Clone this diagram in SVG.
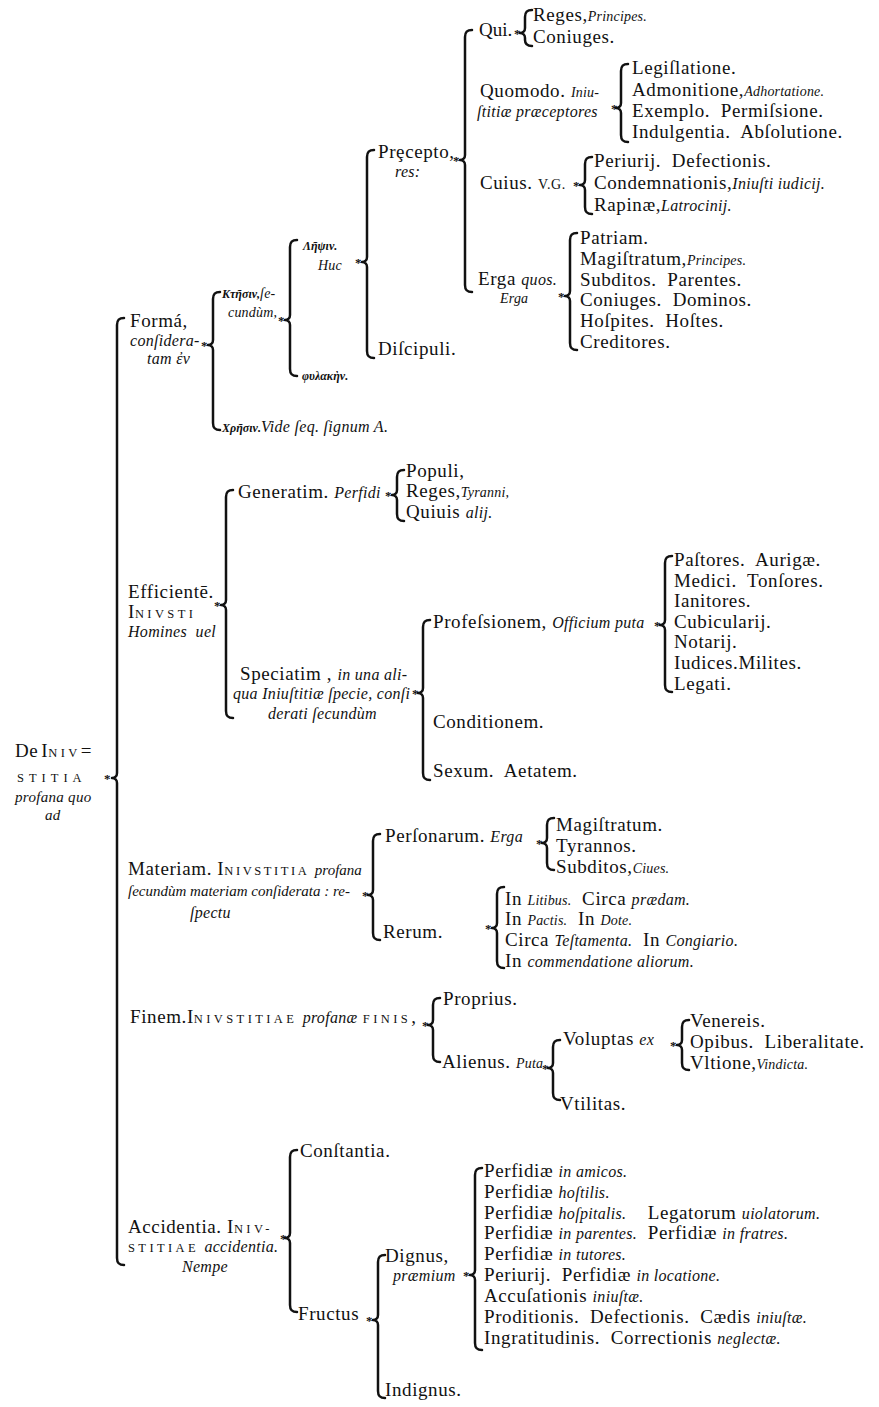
<svg xmlns="http://www.w3.org/2000/svg" width="879" height="1407" viewBox="0 0 879 1407" xml:space="preserve">
<style>
text{font-family:"Liberation Serif","DejaVu Serif",serif;font-size:19px;fill:#111;white-space:pre;letter-spacing:0.6px}
.i{font-style:italic;font-size:16px;letter-spacing:0.3px}
.it{font-style:italic;font-size:16px;letter-spacing:0.3px}
.sm{font-style:italic;font-size:14px;letter-spacing:0.2px}
.sc{font-size:12.5px;letter-spacing:3.4px}
.g{font-style:italic;font-size:12px;font-weight:bold;letter-spacing:0}
.ast{font-size:13px;font-weight:bold}
.b{fill:none;stroke:#111;stroke-width:2.5;stroke-linecap:round;stroke-linejoin:round}
</style>
<rect width="879" height="1407" fill="#ffffff"/>
<g id="connectors">
<path class="b" d="M124,318 C119,318 117,320 117,325 L117,773 C117,776 115,778 112,778 C115,778 117,780 117,783 L117,1258 C117,1263 119,1265 124,1265"/>
<path class="b" d="M220,292 C215,292 213,294 213,299 L213,340 C213,343 211,345 208,345 C211,345 213,347 213,350 L213,423 C213,428 215,430 220,430"/>
<path class="b" d="M297,240 C292,240 290,242 290,247 L290,315 C290,318 288,320 285,320 C288,320 290,322 290,325 L290,369 C290,374 292,376 297,376"/>
<path class="b" d="M374,150 C369,150 367,152 367,157 L367,257 C367,260 365,262 362,262 C365,262 367,264 367,267 L367,351 C367,356 369,358 374,358"/>
<path class="b" d="M472,30 C467,30 465,32 465,37 L465,155 C465,158 463,160 460,160 C463,160 465,162 465,165 L465,285 C465,290 467,292 472,292"/>
<path class="b" d="M532,10 C527,10 525,12 525,17 L525,28 C525,31 523,33 520,33 C523,33 525,35 525,38 L525,40 C525,44 527,46 532,46"/>
<path class="b" d="M628,64 C623,64 621,66 621,71 L621,103 C621,106 619,108 616,108 C619,108 621,110 621,113 L621,135 C621,140 623,142 628,142"/>
<path class="b" d="M592,157 C587,157 585,159 585,164 L585,180 C585,183 583,185 580,185 C583,185 585,187 585,190 L585,207 C585,212 587,214 592,214"/>
<path class="b" d="M577,233 C572,233 570,235 570,240 L570,291 C570,294 568,296 565,296 C568,296 570,298 570,301 L570,343 C570,348 572,350 577,350"/>
<path class="b" d="M233,490 C228,490 226,492 226,497 L226,600 C226,603 224,605 221,605 C224,605 226,607 226,610 L226,711 C226,716 228,718 233,718"/>
<path class="b" d="M404,470 C399,470 397,472 397,477 L397,490 C397,493 395,495 392,495 C395,495 397,497 397,500 L397,514 C397,519 399,521 404,521"/>
<path class="b" d="M430,620 C425,620 423,622 423,627 L423,688 C423,691 421,693 418,693 C421,693 423,695 423,698 L423,773 C423,778 425,780 430,780"/>
<path class="b" d="M672,556 C667,556 665,558 665,563 L665,620 C665,623 663,625 660,625 C663,625 665,627 665,630 L665,685 C665,690 667,692 672,692"/>
<path class="b" d="M380,834 C375,834 373,836 373,841 L373,890 C373,893 371,895 368,895 C371,895 373,897 373,900 L373,933 C373,938 375,940 380,940"/>
<path class="b" d="M554,818 C549,818 547,820 547,825 L547,838 C547,841 545,843 542,843 C545,843 547,845 547,848 L547,863 C547,868 549,870 554,870"/>
<path class="b" d="M504,887 C499,887 497,889 497,894 L497,923 C497,926 495,928 492,928 C495,928 497,930 497,933 L497,961 C497,966 499,968 504,968"/>
<path class="b" d="M440,998 C435,998 433,1000 433,1005 L433,1020 C433,1023 431,1025 428,1025 C431,1025 433,1027 433,1030 L433,1055 C433,1060 435,1062 440,1062"/>
<path class="b" d="M560,1040 C555,1040 553,1042 553,1047 L553,1063 C553,1066 551,1068 548,1068 C551,1068 553,1070 553,1073 L553,1093 C553,1098 555,1100 560,1100"/>
<path class="b" d="M689,1020 C684,1020 682,1022 682,1027 L682,1040 C682,1043 680,1045 677,1045 C680,1045 682,1047 682,1050 L682,1063 C682,1068 684,1070 689,1070"/>
<path class="b" d="M297,1150 C292,1150 290,1152 290,1157 L290,1233 C290,1236 288,1238 285,1238 C288,1238 290,1240 290,1243 L290,1305 C290,1310 292,1312 297,1312"/>
<path class="b" d="M385,1255 C380,1255 378,1257 378,1262 L378,1315 C378,1318 376,1320 373,1320 C376,1320 378,1322 378,1325 L378,1391 C378,1396 380,1398 385,1398"/>
<path class="b" d="M482,1168 C477,1168 475,1170 475,1175 L475,1270 C475,1273 473,1275 470,1275 C473,1275 475,1277 475,1280 L475,1343 C475,1348 477,1350 482,1350"/>
<text class="ast" x="104" y="783">*</text>
<text class="ast" x="201" y="350">*</text>
<text class="ast" x="278" y="325">*</text>
<text class="ast" x="355" y="267">*</text>
<text class="ast" x="453" y="165">*</text>
<text class="ast" x="514" y="38">*</text>
<text class="ast" x="611" y="113">*</text>
<text class="ast" x="573" y="190">*</text>
<text class="ast" x="558" y="301">*</text>
<text class="ast" x="214" y="610">*</text>
<text class="ast" x="385" y="500">*</text>
<text class="ast" x="412" y="698">*</text>
<text class="ast" x="654" y="630">*</text>
<text class="ast" x="362" y="900">*</text>
<text class="ast" x="536" y="848">*</text>
<text class="ast" x="485" y="933">*</text>
<text class="ast" x="422" y="1030">*</text>
<text class="ast" x="542" y="1073">*</text>
<text class="ast" x="670" y="1050">*</text>
<text class="ast" x="280" y="1243">*</text>
<text class="ast" x="366" y="1325">*</text>
<text class="ast" x="463" y="1280">*</text>
</g>
<g id="n-root">
<text x="15" y="757">De<tspan dx="3">I</tspan><tspan class="sc">NIV</tspan>=</text>
<text x="17" y="782"><tspan class="sc" style="letter-spacing:5px">STITIA</tspan></text>
<text x="15" y="802"><tspan class="i" style="font-size:15px">profana quo</tspan></text>
<text x="45" y="820"><tspan class="i" style="font-size:15px">ad</tspan></text>
</g>
<g id="n-forma">
<text x="130" y="327">Formá,</text>
<text x="130" y="346" class="it">conſidera-</text>
<text x="147" y="364" class="it">tam ἐν</text>
</g>
<g id="n-ktesin">
<text x="222" y="298"><tspan class="g">Κτῆσιν,</tspan><tspan class="sm">ſe-</tspan></text>
<text x="228" y="317" class="sm">cundùm,</text>
</g>
<g id="n-lepsin">
<text x="303" y="250" class="g">Λῆψιν.</text>
<text x="318" y="270" class="sm">Huc</text>
</g>
<g id="n-precepto">
<text x="378" y="158">Prȩcepto,</text>
<text x="395" y="177" class="it">res:</text>
</g>
<g id="n-qui"><text x="479" y="36" style="letter-spacing:0">Qui.</text></g>
<g id="n-qui-items">
<text x="533" y="21">Reges,<tspan class="sm">Principes.</tspan></text>
<text x="533" y="43">Coniuges.</text>
</g>
<g id="n-quomodo">
<text x="480" y="97">Quomodo. <tspan class="sm">Iniu-</tspan></text>
<text x="477" y="117" class="it">ſtitiæ præceptores</text>
</g>
<g id="n-quomodo-items">
<text x="632" y="74">Legiſlatione.</text>
<text x="632" y="96">Admonitione,<tspan class="sm">Adhortatione.</tspan></text>
<text x="632" y="117">Exemplo.  Permiſsione.</text>
<text x="632" y="138">Indulgentia.  Abſolutione.</text>
</g>
<g id="n-cuius"><text x="480" y="189">Cuius. <tspan style="font-size:14px">V.G.</tspan></text></g>
<g id="n-cuius-items">
<text x="594" y="167">Periurij.  Defectionis.</text>
<text x="594" y="189">Condemnationis,<tspan class="i">Iniuſti iudicij.</tspan></text>
<text x="594" y="211">Rapinæ,<tspan class="i">Latrocinij.</tspan></text>
</g>
<g id="n-erga">
<text x="478" y="285">Erga <tspan class="i">quos.</tspan></text>
<text x="500" y="303" class="sm">Erga</text>
</g>
<g id="n-erga-items">
<text x="580" y="244">Patriam.</text>
<text x="580" y="265">Magiſtratum,<tspan class="sm">Principes.</tspan></text>
<text x="580" y="286">Subditos.  Parentes.</text>
<text x="580" y="306">Coniuges.  Dominos.</text>
<text x="580" y="327">Hoſpites.  Hoſtes.</text>
<text x="580" y="348">Creditores.</text>
</g>
<g id="n-discipuli"><text x="378" y="355">Diſcipuli.</text></g>
<g id="n-phylaken"><text x="302" y="380" class="g">φυλακὴν.</text></g>
<g id="n-chresin"><text x="222" y="432"><tspan class="g">Χρῆσιν.</tspan><tspan class="i">Vide ſeq. ſignum A.</tspan></text></g>
<g id="n-efficiente">
<text x="128" y="598">Efficientē.</text>
<text x="128" y="618">I<tspan class="sc">NIVSTI</tspan></text>
<text x="128" y="637" class="it">Homines  uel</text>
</g>
<g id="n-generatim"><text x="238" y="498">Generatim. <tspan class="i">Perfidi</tspan></text></g>
<g id="n-generatim-items">
<text x="406" y="477">Populi,</text>
<text x="406" y="497">Reges,<tspan class="sm">Tyranni,</tspan></text>
<text x="406" y="518">Quiuis <tspan class="i">alij.</tspan></text>
</g>
<g id="n-speciatim">
<text x="240" y="680">Speciatim , <tspan class="i">in una ali-</tspan></text>
<text x="233" y="699" class="it">qua Iniuſtitiæ ſpecie, conſi</text>
<text x="268" y="719" class="it">derati ſecundùm</text>
</g>
<g id="n-professionem"><text x="433" y="628">Profeſsionem, <tspan class="i">Officium puta</tspan></text></g>
<g id="n-professionem-items">
<text x="674" y="566">Paſtores.  Aurigæ.</text>
<text x="674" y="587">Medici.  Tonſores.</text>
<text x="674" y="607">Ianitores.</text>
<text x="674" y="628">Cubicularij.</text>
<text x="674" y="648">Notarij.</text>
<text x="674" y="669">Iudices.Milites.</text>
<text x="674" y="690">Legati.</text>
</g>
<g id="n-conditionem"><text x="433" y="728">Conditionem.</text></g>
<g id="n-sexum"><text x="433" y="777">Sexum.  Aetatem.</text></g>
<g id="n-materiam">
<text x="128" y="875">Materiam. I<tspan class="sc" style="letter-spacing:2.6px">NIVSTITIA</tspan> <tspan class="i" style="font-size:15px;letter-spacing:0">profana</tspan></text>
<text x="128" y="896" class="it" style="font-size:15px;letter-spacing:0">ſecundùm materiam conſiderata : re-</text>
<text x="190" y="918" class="it">ſpectu</text>
</g>
<g id="n-personarum"><text x="385" y="842">Perſonarum. <tspan class="i">Erga</tspan></text></g>
<g id="n-personarum-items">
<text x="556" y="831">Magiſtratum.</text>
<text x="556" y="852">Tyrannos.</text>
<text x="556" y="873">Subditos,<tspan class="sm">Ciues.</tspan></text>
</g>
<g id="n-rerum"><text x="383" y="938">Rerum.</text></g>
<g id="n-rerum-items">
<text x="505" y="905">In <tspan class="sm">Litibus.</tspan>  Circa <tspan class="i">prædam.</tspan></text>
<text x="505" y="925">In <tspan class="sm">Pactis.</tspan>  In <tspan class="sm">Dote.</tspan></text>
<text x="505" y="946">Circa <tspan class="i">Teſtamenta.</tspan>  In <tspan class="i">Congiario.</tspan></text>
<text x="505" y="967">In <tspan class="i">commendatione aliorum.</tspan></text>
</g>
<g id="n-finem"><text x="130" y="1023">Finem.I<tspan class="sc">NIVSTITIAE</tspan> <tspan class="i">profanæ</tspan> <tspan class="sc">FINIS</tspan>,</text></g>
<g id="n-proprius"><text x="443" y="1005">Proprius.</text></g>
<g id="n-alienus"><text x="442" y="1068">Alienus. <tspan class="sm">Puta</tspan></text></g>
<g id="n-voluptas"><text x="563" y="1045">Voluptas <tspan class="i">ex</tspan></text></g>
<g id="n-voluptas-items">
<text x="690" y="1027">Venereis.</text>
<text x="690" y="1048">Opibus.  Liberalitate.</text>
<text x="690" y="1069">Vltione,<tspan class="sm">Vindicta.</tspan></text>
</g>
<g id="n-utilitas"><text x="560" y="1110">Vtilitas.</text></g>
<g id="n-accidentia">
<text x="128" y="1233">Accidentia. I<tspan class="sc">NIV-</tspan></text>
<text x="128" y="1252"><tspan class="sc">STITIAE</tspan> <tspan class="i">accidentia.</tspan></text>
<text x="182" y="1272" class="it">Nempe</text>
</g>
<g id="n-constantia"><text x="300" y="1157">Conſtantia.</text></g>
<g id="n-fructus"><text x="298" y="1320">Fructus</text></g>
<g id="n-dignus">
<text x="385" y="1262">Dignus,</text>
<text x="393" y="1281" class="it">præmium</text>
</g>
<g id="n-dignus-items">
<text x="484" y="1177">Perfidiæ <tspan class="i">in amicos.</tspan></text>
<text x="484" y="1198">Perfidiæ <tspan class="i">hoſtilis.</tspan></text>
<text x="484" y="1219">Perfidiæ <tspan class="i">hoſpitalis.</tspan>    Legatorum <tspan class="i">uiolatorum.</tspan></text>
<text x="484" y="1239">Perfidiæ <tspan class="i">in parentes.</tspan>  Perfidiæ <tspan class="i">in fratres.</tspan></text>
<text x="484" y="1260">Perfidiæ <tspan class="i">in tutores.</tspan></text>
<text x="484" y="1281">Periurij.  Perfidiæ <tspan class="i">in locatione.</tspan></text>
<text x="484" y="1302">Accuſationis <tspan class="i">iniuſtæ.</tspan></text>
<text x="484" y="1323">Proditionis.  Defectionis.  Cædis <tspan class="i">iniuſtæ.</tspan></text>
<text x="484" y="1344">Ingratitudinis.  Correctionis <tspan class="i">neglectæ.</tspan></text>
</g>
<g id="n-indignus"><text x="385" y="1396">Indignus.</text></g>
</svg>
